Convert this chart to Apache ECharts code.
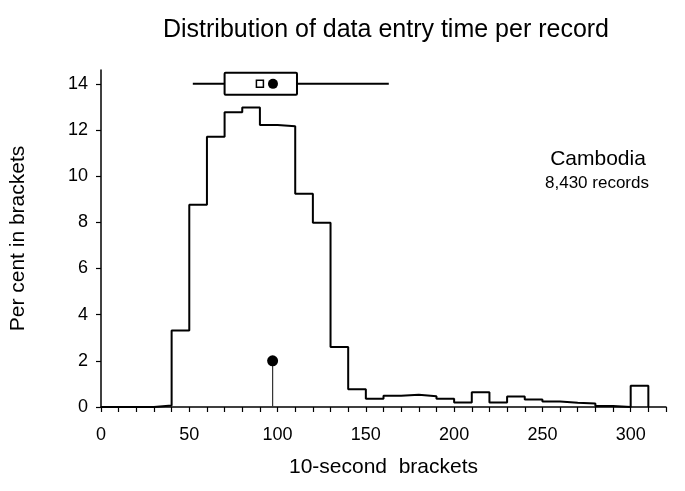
<!DOCTYPE html>
<html><head><meta charset="utf-8">
<script src="https://cdn.jsdelivr.net/npm/echarts@6/dist/echarts.min.js"></script>
<style>html,body{margin:0;padding:0;background:#fff}#c{width:685px;height:491px}</style>
</head><body><div id="c"></div>
<script>
// Bracket left edges (seconds) and per cent of records in each 10-second bracket
var binStarts = [0,10,20,30,40,50,60,70,80,90,100,110,120,130,140,150,160,170,180,190,200,210,220,230,240,250,260,270,280,290,300];
var binWidth = 10;
var percents = [0,0,0,0.06,3.31,8.76,11.71,12.77,12.97,12.22,12.16,9.24,7.98,2.6,0.77,0.36,0.49,0.53,0.47,0.36,0.19,0.64,0.2,0.45,0.33,0.24,0.18,0.15,0.04,0,0.92];
// Box plot summary drawn at y = 14
var boxY = 14;
var whiskerLow = 52, q1 = 70, q3 = 111, whiskerHigh = 163;
var meanVal = 90, medianVal = 97.4;
// Lollipop marker
var lollipopX = 97.2, lollipopY = 2;
var xTicks = [0,10,20,30,40,50,60,70,80,90,100,110,120,130,140,150,160,170,180,190,200,210,220,230,240,250,260,270,280,290,300,310,320];
var xLabels = [0,50,100,150,200,250,300];
var yTicks = [0,2,4,6,8,10,12,14];

var stepData = binStarts.map(function(s,i){return [s, percents[i]];});
var last = binStarts[binStarts.length-1] + binWidth;
stepData.push([last, 0]);

var chart = echarts.init(document.getElementById('c'));
var FONT = 'Liberation Sans, Arial, sans-serif';
chart.setOption({
  animation:false,
  backgroundColor:'#fff',
  title:{text:'Distribution of data entry time per record', left:381, textAlign:'center', top:13,
    textStyle:{fontFamily:FONT, fontSize:25, fontWeight:'normal', color:'#000'}},
  grid:{left:99.5, right:19, top:70, bottom:84},
  xAxis:{type:'value', min:0, max:320,
    name:'10-second  brackets', nameLocation:'middle', nameGap:50,
    nameTextStyle:{fontFamily:FONT, fontSize:21, color:'#000'},
    axisLine:{lineStyle:{color:'#000', width:1.5}},
    axisTick:{show:true, length:5, customValues:xTicks, lineStyle:{color:'#000', width:1.2}},
    axisLabel:{customValues:xLabels, fontFamily:FONT, fontSize:18, color:'#000', margin:19},
    splitLine:{show:false}},
  yAxis:{type:'value', min:0, max:14.6,
    name:'Per cent in brackets', nameLocation:'middle', nameGap:72, nameRotate:90,
    nameTextStyle:{fontFamily:FONT, fontSize:21, color:'#000'},
    axisLine:{show:true, lineStyle:{color:'#000', width:1.5}},
    axisTick:{show:true, length:5, customValues:yTicks, lineStyle:{color:'#000', width:1.2}},
    axisLabel:{customValues:yTicks, fontFamily:FONT, fontSize:18, color:'#000', margin:13},
    splitLine:{show:false}},
  graphic:[
    {type:'text', x:598, y:159, style:{text:'Cambodia', font:'21px '+FONT, fill:'#000', textAlign:'center', textVerticalAlign:'middle'}},
    {type:'text', x:597, y:183, style:{text:'8,430 records', font:'17px '+FONT, fill:'#000', textAlign:'center', textVerticalAlign:'middle'}}
  ],
  series:[
    {type:'line', step:'end', data:stepData, symbol:'none',
      lineStyle:{color:'#000', width:2}, z:3},
    {type:'line', data:[[lollipopX,0],[lollipopX,lollipopY]], symbol:'none',
      lineStyle:{color:'#333', width:1.2}, z:2},
    {type:'scatter', data:[[lollipopX,lollipopY]], symbol:'circle', symbolSize:11,
      itemStyle:{color:'#000', opacity:1}, z:4},
    {type:'custom', data:[[whiskerLow,q1,q3,whiskerHigh,boxY]],
      renderItem:function(params, api){
        var y = api.value(4);
        var pLo = api.coord([api.value(0), y]);
        var p1 = api.coord([api.value(1), y]);
        var p3 = api.coord([api.value(2), y]);
        var pHi = api.coord([api.value(3), y]);
        var h = 11;
        var st = {stroke:'#000', lineWidth:2, fill:'none'};
        return {type:'group', children:[
          {type:'line', shape:{x1:pLo[0], y1:pLo[1], x2:p1[0], y2:p1[1]}, style:st},
          {type:'line', shape:{x1:p3[0], y1:p3[1], x2:pHi[0], y2:pHi[1]}, style:st},
          {type:'rect', shape:{x:p1[0], y:p1[1]-h, width:p3[0]-p1[0], height:2*h, r:1}, style:{stroke:'#000', lineWidth:2, fill:'#fff'}}
        ]};
      }, z:5},
    {type:'scatter', data:[[meanVal,boxY]], symbol:'rect', symbolSize:7,
      itemStyle:{color:'#fff', borderColor:'#000', borderWidth:1.5, opacity:1}, z:6},
    {type:'scatter', data:[[medianVal,boxY]], symbol:'circle', symbolSize:10,
      itemStyle:{color:'#000', opacity:1}, z:6}
  ]
});
</script></body></html>
